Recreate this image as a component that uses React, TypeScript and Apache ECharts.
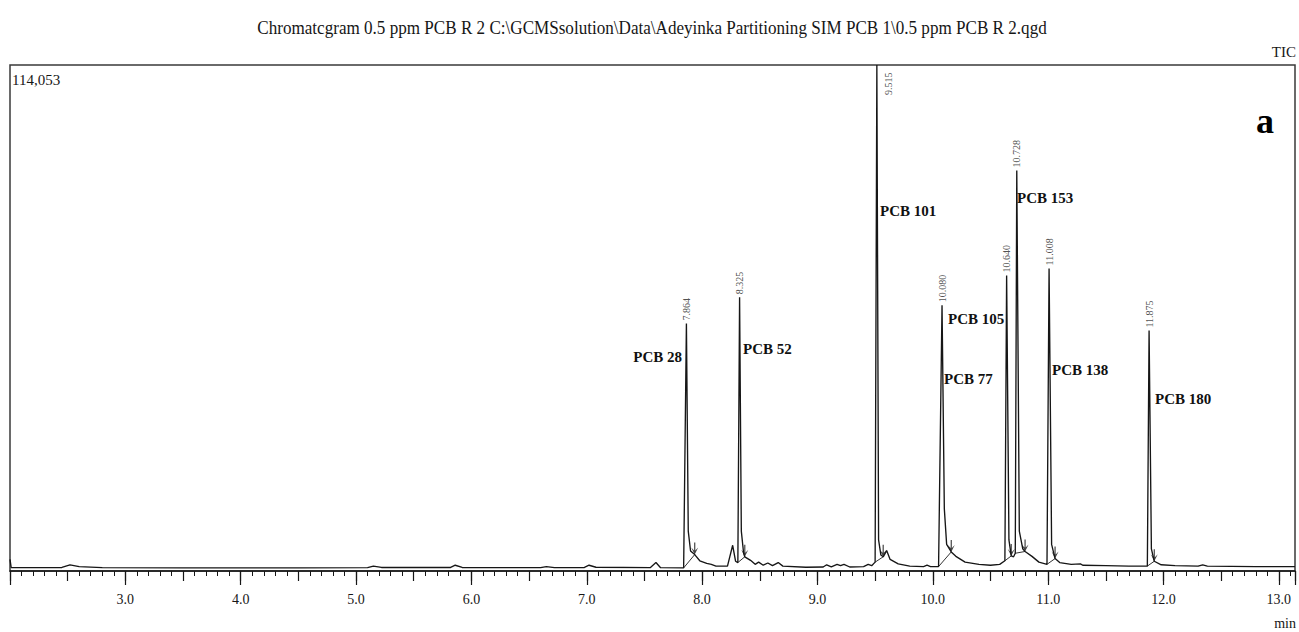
import { useEffect, useRef } from "react";
import * as echarts from "echarts";

// ---- Data -------------------------------------------------------------

const TITLE =
  "Chromatcgram 0.5 ppm PCB R 2 C:\\GCMSsolution\\Data\\Adeyinka Partitioning SIM PCB 1\\0.5 ppm PCB R 2.qgd";

// TIC trace between the peak apexes: retention time (min) and intensity
const traceTime = [
  2.0, 2.01, 2.3, 2.45, 2.52, 2.6, 2.8, 3.5, 4.5, 5.1, 5.15, 5.22, 5.82, 5.86, 5.92,
  6.6, 6.65, 6.72, 6.98, 7.02, 7.08, 7.55, 7.6, 7.64, 7.84,
  7.88, 7.9, 7.936, 7.98, 8.04, 8.08, 8.12, 8.22, 8.265, 8.29, 8.31,
  8.34, 8.36, 8.37, 8.42, 8.46, 8.49, 8.53, 8.57, 8.61, 8.66, 8.7, 8.9, 9.05, 9.08,
  9.12, 9.17, 9.2, 9.23, 9.28, 9.4, 9.44, 9.47, 9.5,
  9.53, 9.55, 9.57, 9.6, 9.63, 9.7, 9.8, 9.92, 9.95, 9.98, 10.05,
  10.1, 10.12, 10.16, 10.2, 10.28, 10.4, 10.5, 10.58, 10.625,
  10.66, 10.68, 10.7, 10.715,
  10.75, 10.78, 10.8, 10.86, 10.92, 10.99,
  11.03, 11.06, 11.1, 11.2, 11.28, 11.3, 11.5, 11.7, 11.86,
  11.895, 11.92, 11.98, 12.1, 12.3, 12.34, 12.38, 12.8, 13.14,
];
const traceIntensity = [
  2600, 800, 750, 800, 1400, 1000, 750, 700, 700, 750, 1100, 800, 800, 1300, 800,
  750, 1000, 750, 800, 1300, 850, 750, 1900, 750, 700,
  9000, 4500, 3700, 2300, 1700, 1500, 1100, 1100, 5800, 2200, 1900,
  9000, 4000, 3200, 2400, 1500, 2000, 1300, 1800, 1200, 1900, 1100, 850, 900, 1400,
  950, 1500, 1200, 1500, 900, 1000, 1500, 1200, 2000,
  7000, 3600, 3200, 4600, 2600, 1600, 1100, 1000, 1300, 1000, 1000,
  14000, 6000, 4300, 3300, 2000, 1500, 1300, 1500, 2300,
  7000, 3400, 3200, 4000,
  9000, 5000, 4400, 3300, 2000, 1500,
  6000, 2800, 1900, 1500, 1600, 1300, 1200, 1100, 1100,
  5000, 2200, 1400, 1200, 1100, 1400, 1100, 1000, 1000,
];

// Integrated peaks: apex retention time and apex intensity
const peakTimes = [7.864, 8.325, 9.515, 10.08, 10.64, 10.728, 11.008, 11.875];
const peakHeights = [55800, 61700, 114053, 59900, 66600, 90300, 68200, 54200];

// Integration start and end of each peak
const peakStartTimes = [7.84, 8.31, 9.5, 10.05, 10.625, 10.715, 10.99, 11.86];
const peakStartIntensity = [700, 1900, 2000, 1000, 2300, 4000, 1500, 1100];
const peakEndTimes = [7.936, 8.37, 9.57, 10.16, 10.68, 10.8, 11.06, 11.92];
const peakEndIntensity = [3700, 3200, 3200, 4300, 3400, 4400, 2800, 2200];

// Compound names written next to the peaks
const compoundNames = [
  "PCB 28", "PCB 52", "PCB 101", "PCB 153", "PCB 105", "PCB 77", "PCB 138", "PCB 180",
];

const Y_MAX = 114053;
const X_MIN = 2.0;
const X_MAX = 13.14;
const xTickLabels = ["3.0", "4.0", "5.0", "6.0", "7.0", "8.0", "9.0", "10.0", "11.0", "12.0", "13.0"];

// ---- Layout -------------------------------------------------------------

const SERIF = '"Liberation Serif", "Times New Roman", serif';
const INK = "#161616";

// pixel anchors for the compound names, same order as compoundNames
const compoundLabelLayout = [
  { x: 682, y: 357, align: "right" },
  { x: 743, y: 349, align: "left" },
  { x: 880, y: 211, align: "left" },
  { x: 1017, y: 198, align: "left" },
  { x: 948, y: 319, align: "left" },
  { x: 944, y: 379, align: "left" },
  { x: 1052, y: 370, align: "left" },
  { x: 1155, y: 399, align: "left" },
];

const ARROW_DOWN = "path://M4.4,0 L5.6,0 L5.6,8 L8.5,5 L5,12 L1.5,5 L4.4,8 Z";

export default function App() {
  const ref = useRef<HTMLDivElement>(null);

  useEffect(() => {
    if (!ref.current) return;
    const chart = echarts.init(ref.current, undefined, { renderer: "svg" });

    // merge the inter-peak trace with the apexes, ordered by time
    const trace: [number, number][] = traceTime.map((t, i) => [t, traceIntensity[i]]);
    peakTimes.forEach((t, i) => trace.push([t, peakHeights[i]]));
    trace.sort((a, b) => a[0] - b[0]);

    // integration baselines, one segment per peak, broken by gaps
    const baselines: any[] = [];
    peakStartTimes.forEach((t, i) => {
      baselines.push([t, peakStartIntensity[i]]);
      baselines.push([peakEndTimes[i], peakEndIntensity[i]]);
      baselines.push([peakEndTimes[i], "-"]);
    });

    const peakData = peakTimes.map((t, i) => {
      const item: any = { value: [t, peakHeights[i]] };
      if (peakHeights[i] >= Y_MAX) {
        // apex at the top of the frame: label goes beside the line
        item.label = { position: [12, 30] };
      }
      return item;
    });

    const baseX = {
      type: "value",
      min: X_MIN,
      max: X_MAX,
      position: "bottom",
      splitLine: { show: false },
      axisLine: { show: false },
      axisLabel: { show: false },
    };

    const option: any = {
      animation: false,
      grid: {
        left: 10,
        right: 4,
        top: 65,
        bottom: 61,
        show: true,
        borderColor: "#3a3a3a",
        borderWidth: 1.5,
        backgroundColor: "#fff",
      },
      xAxis: [
        {
          ...baseX,
          interval: 1,
          axisLine: { show: true, onZero: false, lineStyle: { color: INK, width: 1.5 } },
          axisTick: { show: true, length: 14, lineStyle: { color: INK, width: 1.2 } },
          axisLabel: {
            show: true,
            margin: 21,
            fontFamily: SERIF,
            fontSize: 14,
            color: INK,
            formatter: (v: number) => {
              const idx = Math.round(v) - 3;
              return Math.abs(v - Math.round(v)) < 1e-6 && idx >= 0 ? xTickLabels[idx] : "";
            },
          },
        },
        {
          ...baseX,
          interval: 0.5,
          axisTick: { show: true, length: 10, lineStyle: { color: INK, width: 1.2 } },
        },
        {
          ...baseX,
          interval: 0.1,
          axisTick: { show: true, length: 5, lineStyle: { color: INK, width: 1 } },
        },
      ],
      yAxis: {
        type: "value",
        min: 0,
        max: Y_MAX,
        show: false,
        splitLine: { show: false },
      },
      series: [
        {
          name: "TIC",
          type: "line",
          data: trace,
          symbol: "none",
          showSymbol: false,
          clip: true,
          lineStyle: { color: INK, width: 1.35 },
          z: 3,
        },
        {
          name: "Baseline",
          type: "line",
          data: baselines,
          symbol: "none",
          showSymbol: false,
          connectNulls: false,
          lineStyle: { color: "#333", width: 1 },
          z: 2,
        },
        {
          name: "Retention time",
          type: "scatter",
          data: peakData,
          symbolSize: 0,
          z: 4,
          label: {
            show: true,
            position: "top",
            distance: 3,
            rotate: 90,
            align: "left",
            verticalAlign: "middle",
            fontFamily: SERIF,
            fontSize: 10,
            color: "#222",
            formatter: (p: any) => p.value[0].toFixed(3),
          },
        },
        {
          name: "Peak end",
          type: "scatter",
          data: peakEndTimes.map((t, i) => [t, peakEndIntensity[i]]),
          symbol: ARROW_DOWN,
          symbolSize: [7, 12],
          symbolOffset: [0, -6],
          itemStyle: { color: INK },
          z: 4,
        },
      ],
      graphic: [
        {
          type: "text",
          x: 652,
          y: 28,
          scaleX: 0.9,
          style: {
            text: TITLE,
            font: `19px ${SERIF}`,
            fill: INK,
            textAlign: "center",
            textVerticalAlign: "middle",
          },
        },
        {
          type: "text",
          x: 1296,
          y: 52,
          style: { text: "TIC", font: `15px ${SERIF}`, fill: INK, textAlign: "right", textVerticalAlign: "middle" },
        },
        {
          type: "text",
          x: 12,
          y: 80,
          style: { text: "114,053", font: `15px ${SERIF}`, fill: INK, textAlign: "left", textVerticalAlign: "middle" },
        },
        {
          type: "text",
          x: 1296,
          y: 623,
          style: { text: "min", font: `14px ${SERIF}`, fill: INK, textAlign: "right", textVerticalAlign: "middle" },
        },
        {
          type: "text",
          x: 1265,
          y: 121,
          style: { text: "a", font: `bold 36px ${SERIF}`, fill: "#000", textAlign: "center", textVerticalAlign: "middle" },
        },
        ...compoundNames.map((name, i) => ({
          type: "text",
          x: compoundLabelLayout[i].x,
          y: compoundLabelLayout[i].y,
          z: 10,
          style: {
            text: name,
            font: `bold 15px ${SERIF}`,
            fill: "#111",
            textAlign: compoundLabelLayout[i].align,
            textVerticalAlign: "middle",
          },
        })),
      ],
    };

    chart.setOption(option);
    return () => chart.dispose();
  }, []);

  return (
    <div
      ref={ref}
      style={{ position: "fixed", left: 0, top: 0, width: 1299, height: 632, background: "#fff" }}
    />
  );
}
